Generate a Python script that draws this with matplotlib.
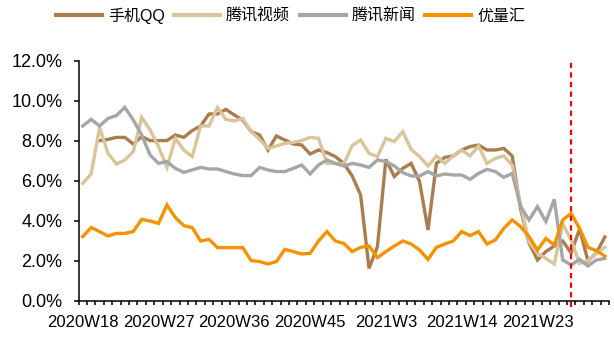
import numpy as np
import matplotlib.pyplot as plt

plt.rcParams['font.family'] = ['Liberation Sans', 'Noto Sans CJK SC', 'DejaVu Sans']

# weekly share (%) per platform, 2020W18 .. 2021W31 (63 weeks)
qq = [np.nan, np.nan, 8.02, 8.08, 8.18, 8.18, 7.85, 8.22, 8.02, 8.02,
      8.02, 8.30, 8.18, 8.52, 8.75, 9.35, 9.35, 9.58, 9.30, 9.05,
      8.47, 8.30, 7.55, 8.25, 8.05, 7.85, 7.80, 7.35, 7.55, 7.42,
      7.22, 6.88, 6.25, 5.30, 1.63, 2.72, 7.08, 6.22, 6.63, 6.88,
      5.97, 3.55, 6.88, 7.18, 7.25, 7.55, 7.72, 7.80, 7.55, 7.55,
      7.63, 7.25, 4.60, 2.90, 2.05, 2.47, 2.75, 3.00, 2.40, 3.60,
      2.00, 2.40, 3.20]
video = [5.88, 6.35, 8.68, 7.38, 6.85, 7.05, 7.47, 9.18, 8.55, 7.72,
         6.68, 8.13, 7.55, 7.22, 8.75, 8.75, 9.68, 9.08, 9.00, 9.13,
         8.47, 8.08, 7.63, 7.75, 7.88, 7.93, 8.02, 8.18, 8.13, 6.88,
         6.88, 6.85, 7.77, 8.05, 7.38, 7.22, 8.13, 7.97, 8.47, 7.58,
         7.22, 6.75, 7.25, 6.88, 7.25, 7.55, 7.25, 7.75, 6.88, 7.13,
         7.25, 6.80, 4.80, 2.97, 2.38, 2.13, 1.85, 3.85, 3.05, 1.88,
         2.02, 2.38, 2.68]
news = [8.75, 9.08, 8.75, 9.13, 9.27, 9.68, 9.05, 8.30, 7.30, 6.88,
        6.97, 6.63, 6.43, 6.55, 6.68, 6.60, 6.60, 6.47, 6.35, 6.27,
        6.27, 6.68, 6.55, 6.47, 6.47, 6.63, 6.80, 6.35, 6.80, 7.05,
        6.88, 6.75, 6.88, 6.80, 6.68, 7.05, 6.97, 6.75, 6.42, 6.25,
        6.25, 6.47, 6.25, 6.35, 6.30, 6.30, 6.08, 6.38, 6.58, 6.47,
        6.18, 6.38, 4.72, 4.05, 4.72, 3.97, 5.08, 2.05, 1.80, 2.08,
        1.75, 2.05, 2.13]
youlianghui = [3.22, 3.67, 3.47, 3.25, 3.38, 3.38, 3.47, 4.08, 4.00, 3.88,
               4.80, 4.17, 3.77, 3.67, 3.00, 3.08, 2.67, 2.67, 2.67, 2.67,
               2.02, 1.97, 1.85, 1.97, 2.58, 2.47, 2.35, 2.38, 3.00, 3.47,
               3.00, 2.88, 2.47, 2.68, 2.75, 2.17, 2.47, 2.75, 3.00, 2.85,
               2.55, 2.08, 2.68, 2.85, 3.00, 3.47, 3.27, 3.47, 2.85, 3.05,
               3.63, 4.05, 3.72, 3.22, 2.55, 3.13, 2.80, 4.05, 4.38, 3.63,
               2.68, 2.52, 2.25]

tick_labels = ['2020W18', '2020W27', '2020W36', '2020W45', '2021W3', '2021W14', '2021W23']
label_step = 9
marker_week = 58

series = [('手机QQ', qq, '#A97D4E'),
          ('腾讯视频', video, '#D8C59A'),
          ('腾讯新闻', news, '#A6A6A6'),
          ('优量汇', youlianghui, '#F59200')]

n = len(news)
x = np.arange(n)

fig = plt.figure(figsize=(6.14, 3.38), dpi=100)
ax = fig.add_axes([0.1279, 0.1095, 0.864, 0.7101])

for name, vals, color in series:
    ax.plot(x, np.array(vals) / 100, color=color, lw=2.4, label=name,
            solid_joinstyle='miter')

ax.plot([marker_week, marker_week], [-0.003, 0.12], color='#FF0000', lw=1.6,
        dashes=(2.4, 1.9), clip_on=False)

ax.set_xlim(-0.5, n - 0.5)
ax.set_ylim(0, 0.12)
ax.set_yticks(np.arange(0, 0.121, 0.02))
ax.set_yticklabels([f'{v * 100:.1f}%' for v in np.arange(0, 0.121, 0.02)])

ax.set_xticks(np.arange(-0.5, n, 1.0))
ax.set_xticklabels([])
ax.set_xticks(np.arange(0, n, label_step)[:len(tick_labels)], minor=True)
ax.set_xticklabels(tick_labels, minor=True)

for s in ['top', 'right']:
    ax.spines[s].set_visible(False)
for s in ['left', 'bottom']:
    ax.spines[s].set_linewidth(1.1)
    ax.spines[s].set_color('black')

ax.tick_params(axis='y', length=3.5, width=1.1, labelsize=13, pad=8, colors='black')
ax.tick_params(axis='x', which='major', length=3, width=1.1, direction='out')
ax.tick_params(axis='x', which='minor', length=0, labelsize=12, pad=10)

fig.legend(loc='center', bbox_to_anchor=(0.473, 0.953), ncol=4, frameon=False,
           fontsize=11.5, handlelength=2.9, handletextpad=0.35, columnspacing=0.6,
           borderaxespad=0)
for line in fig.legends[0].get_lines():
    line.set_linewidth(3)

fig.savefig('out.png', dpi=100)
